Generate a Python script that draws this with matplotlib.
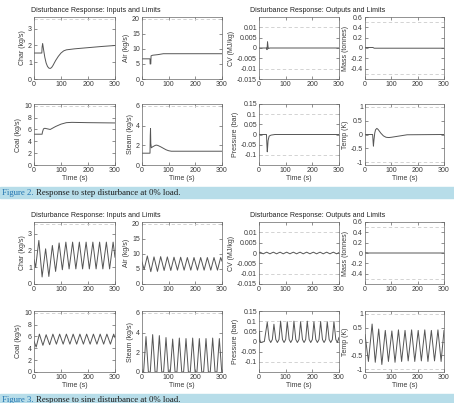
import numpy as np
import matplotlib
matplotlib.use("Agg")
import matplotlib.pyplot as plt
from matplotlib.patches import Rectangle

plt.rcParams['font.family'] = ['Liberation Sans', 'DejaVu Sans']
plt.rcParams['font.size'] = 5

# ---- Figure 2: step disturbance ----
char_step_t = [0, 29, 30, 32, 35, 40, 45, 50, 55, 60, 65, 70, 80, 90, 100, 110, 120, 150, 200, 250, 300]
char_step = [1.55, 1.55, 1.9, 2.12, 1.8, 1.3, 0.95, 0.75, 0.65, 0.63, 0.68, 0.8, 1.1, 1.35, 1.55, 1.68, 1.74, 1.8, 1.87, 1.94, 2.0]

air_step_t = [0, 30, 30.5, 33, 34, 40, 60, 80, 300]
air_step = [6.7, 6.7, 5.0, 5.0, 7.7, 7.9, 8.1, 8.4, 8.4]

coal_step_t = [0, 30, 31, 35, 40, 50, 60, 80, 100, 120, 140, 200, 300]
coal_step = [5.2, 5.2, 5.5, 6.1, 6.2, 6.1, 6.0, 6.5, 6.9, 7.15, 7.2, 7.15, 7.1]

steam_step_t = [0, 30, 31, 32, 33, 35, 40, 50, 55, 60, 70, 80, 90, 100, 110, 300]
steam_step = [1.2, 1.2, 3.0, 3.7, 2.2, 1.75, 1.85, 2.0, 2.02, 1.98, 1.85, 1.7, 1.55, 1.45, 1.4, 1.4]

cv_step_t = [0, 29, 30, 31, 32, 34, 36, 40, 300]
cv_step = [0, 0, -0.0008, 0.001, 0.003, 0.0005, -0.0003, 0, 0]

mass_step_t = [0, 30, 35, 300]
mass_step = [0.01, 0.01, -0.004, -0.004]

pres_step_t = [0, 28, 30, 31, 32, 34, 38, 45, 60, 300]
pres_step = [0, 0, -0.06, -0.085, -0.07, -0.03, -0.008, -0.003, 0, 0]

temp_step_t = [0, 29, 31, 32, 34, 37, 40, 45, 50, 60, 70, 80, 90, 100, 120, 140, 160, 300]
temp_step = [0, 0, -0.3, -0.42, -0.2, 0.05, 0.17, 0.22, 0.18, 0.05, -0.05, -0.1, -0.11, -0.1, -0.07, -0.04, -0.01, 0]

# ---- Figure 3: sine disturbance ----
char_sine_t = [0, 6, 18, 30, 43, 55, 68, 80, 93, 105, 118, 130, 143, 155, 168, 180, 193, 205, 218, 230, 243, 255, 268, 280, 293, 300]
char_sine = [1.45, 1.0, 2.6, 0.42, 2.1, 0.45, 2.3, 0.75, 2.45, 0.85, 2.5, 0.9, 2.5, 0.9, 2.5, 0.9, 2.5, 0.9, 2.5, 0.9, 2.5, 0.9, 2.5, 0.9, 2.5, 1.6]

air_sine_t = [0, 8, 20, 33, 45, 58, 70, 83, 95, 108, 120, 133, 145, 158, 170, 183, 195, 208, 220, 233, 245, 258, 270, 283, 295, 300]
air_sine = [7.3, 4.8, 9.3, 4.1, 9.0, 4.2, 9.1, 4.5, 9.0, 4.5, 8.9, 4.6, 8.9, 4.6, 8.8, 4.6, 8.8, 4.6, 8.8, 4.6, 8.8, 4.6, 8.8, 4.6, 8.8, 7.6]

coal_sine_t = [0, 8, 20, 33, 45, 58, 70, 83, 95, 108, 120, 133, 145, 158, 170, 183, 195, 208, 220, 233, 245, 258, 270, 283, 295, 300]
coal_sine = [5.2, 4.2, 6.4, 4.5, 6.3, 4.6, 6.4, 4.7, 6.4, 4.7, 6.4, 4.7, 6.4, 4.7, 6.4, 4.7, 6.4, 4.7, 6.4, 4.7, 6.4, 4.7, 6.4, 4.7, 6.4, 5.8]

steam_sine_t = [0, 6, 15, 24, 31, 40, 49, 56, 65, 74, 81, 90, 99, 106, 115, 124, 131, 140, 149, 156, 165, 174, 181, 190, 199, 206, 215, 224, 231, 240, 249, 256, 265, 274, 281, 290, 299, 300]
steam_sine = [0, 0, 3.6, 0, 0, 3.8, 0, 0, 3.7, 0, 0, 3.5, 0, 0, 3.35, 0, 0, 3.45, 0, 0, 3.4, 0, 0, 3.45, 0, 0, 3.4, 0, 0, 3.4, 0, 0, 3.45, 0, 0, 3.4, 0, 0]

cv_sine_t = [0, 4, 10, 16, 22, 29, 35, 41, 47, 54, 60, 66, 72, 79, 85, 91, 97, 104, 110, 116, 122, 129, 135, 141, 147, 154, 160, 166, 172, 179, 185, 191, 197, 204, 210, 216, 222, 229, 235, 241, 247, 254, 260, 266, 272, 279, 285, 291, 297, 300]
cv_sine = [0, 0.0004, 0, -0.0004, 0, 0.0004, 0, -0.0004, 0, 0.0004, 0, -0.0004, 0, 0.0004, 0, -0.0004, 0, 0.0004, 0, -0.0004, 0, 0.0004, 0, -0.0004, 0, 0.0004, 0, -0.0004, 0, 0.0004, 0, -0.0004, 0, 0.0004, 0, -0.0004, 0, 0.0004, 0, -0.0004, 0, 0.0004, 0, -0.0004, 0, 0.0004, 0, -0.0004, 0, 0.0002]

mass_sine_t = [0, 8, 12, 300]
mass_sine = [0.005, 0.005, 0.0, 0.0]

pres_sine_t = [0, 1, 2, 3, 6, 20, 31, 38, 44, 50, 56, 63, 69, 75, 81, 88, 94, 100, 106, 113, 119, 125, 131, 138, 144, 150, 156, 163, 169, 175, 181, 188, 194, 200, 206, 213, 219, 225, 231, 238, 244, 250, 256, 263, 269, 275, 281, 288, 294, 300]
pres_sine = [0.05, 0.0, 0.05, 0.01, -0.005, 0.0, 0.095, 0.01, -0.005, 0.01, 0.085, 0.01, -0.005, 0.01, 0.1, 0.01, -0.005, 0.01, 0.097, 0.01, -0.005, 0.01, 0.1, 0.01, -0.005, 0.01, 0.097, 0.01, -0.005, 0.01, 0.1, 0.01, -0.005, 0.01, 0.097, 0.01, -0.005, 0.01, 0.098, 0.01, -0.005, 0.01, 0.097, 0.01, -0.005, 0.01, 0.098, 0.01, -0.005, 0.02]

temp_sine_t = [0, 13, 27, 39, 52, 64, 77, 89, 102, 114, 127, 139, 152, 164, 177, 189, 202, 214, 227, 239, 252, 264, 277, 289, 300]
temp_sine = [0.25, -0.72, 0.63, -0.75, 0.45, -0.83, 0.4, -0.72, 0.38, -0.75, 0.42, -0.72, 0.4, -0.7, 0.42, -0.72, 0.4, -0.7, 0.42, -0.72, 0.4, -0.7, 0.42, -0.72, 0.4]

x_ticks = [0, 100, 200, 300]

# panel settings: label, ylim, yticks, limit lines
panels = {
    'char': ('Char (kg/s)', (0, 3.7), [0, 1, 2, 3], [3.6]),
    'air': ('Air (kg/s)', (0, 20.6), [0, 5, 10, 15, 20], [20]),
    'coal': ('Coal (kg/s)', (0, 10.3), [0, 2, 4, 6, 8, 10], [10]),
    'steam': ('Steam (kg/s)', (0, 6.2), [0, 2, 4, 6], [6]),
    'cv': ('CV (MJ/kg)', (-0.015, 0.015), [-0.015, -0.01, -0.005, 0, 0.005, 0.01], [-0.01, 0.01]),
    'mass': ('Mass (tonnes)', (-0.6, 0.6), [-0.4, -0.2, 0, 0.2, 0.4, 0.6], [-0.5, 0.5]),
    'pres': ('Pressure (bar)', (-0.15, 0.15), [-0.1, -0.05, 0, 0.05, 0.1, 0.15], [-0.1, 0.1]),
    'temp': ('Temp (K)', (-1.1, 1.1), [-1, -0.5, 0, 0.5, 1], [-1, 1]),
}

W, H = 454, 403
fig = plt.figure(figsize=(W / 100, H / 100), dpi=100)

def px_axes(l, r, t, b):
    return fig.add_axes([l / W, 1 - b / H, (r - l) / W, (b - t) / H])

def draw(ax, key, t, y, bottom_row):
    label, ylim, yt, lims = panels[key]
    for v in lims:
        ax.axhline(v, color='#cccccc', lw=0.6, dashes=(4, 3))
    ax.plot(t, y, color='#555555', lw=0.7)
    ax.set_xlim(0, 300)
    ax.set_ylim(*ylim)
    ax.set_xticks(x_ticks)
    ax.set_yticks(yt)
    ax.set_yticklabels([('%g' % v) for v in yt])
    ax.set_ylabel(label, labelpad=1.5, color='#3a3a3a')
    if bottom_row:
        ax.set_xlabel('Time (s)', labelpad=1, color='#3a3a3a')
    ax.tick_params(direction='in', length=2, width=0.4, top=True, right=True,
                   pad=1.5, colors='#3a3a3a', labelsize=5)
    for s in ax.spines.values():
        s.set_linewidth(0.5)
        s.set_color('#666666')

def block(dy1, dy2, data):
    cols_l = [(34, 115), (142, 222), (259, 339), (365, 444)]
    rows = [(17 + dy1, 79 + dy1), (104 + dy2, 165 + dy2)]
    layout = [('char', 0, 0), ('air', 0, 1), ('coal', 1, 0), ('steam', 1, 1),
              ('cv', 0, 2), ('mass', 0, 3), ('pres', 1, 2), ('temp', 1, 3)]
    for key, r, c in layout:
        ax = px_axes(cols_l[c][0], cols_l[c][1], rows[r][0], rows[r][1])
        t, y = data[key]
        draw(ax, key, t, y, r == 1)
    fig.text(96 / W, 1 - (10 + dy1) / H, 'Disturbance Response: Inputs and Limits',
             ha='center', va='center', fontsize=5, color='#222222')
    fig.text(318 / W, 1 - (11 + dy1) / H, 'Disturbance Response: Outputs and Limits',
             ha='center', va='center', fontsize=5, color='#222222')

step_data = {
    'char': (char_step_t, char_step), 'air': (air_step_t, air_step),
    'coal': (coal_step_t, coal_step), 'steam': (steam_step_t, steam_step),
    'cv': (cv_step_t, cv_step), 'mass': (mass_step_t, mass_step),
    'pres': (pres_step_t, pres_step), 'temp': (temp_step_t, temp_step),
}
sine_data = {
    'char': (char_sine_t, char_sine), 'air': (air_sine_t, air_sine),
    'coal': (coal_sine_t, coal_sine), 'steam': (steam_sine_t, steam_sine),
    'cv': (cv_sine_t, cv_sine), 'mass': (mass_sine_t, mass_sine),
    'pres': (pres_sine_t, pres_sine), 'temp': (temp_sine_t, temp_sine),
}

block(0, 0, step_data)
block(205, 207, sine_data)

# caption bars
def caption(top, bottom, num, text):
    fig.patches.append(Rectangle((0, 1 - bottom / H), 1, (bottom - top) / H,
                                 transform=fig.transFigure, color='#b7dde9', zorder=0))
    yc = 1 - ((top + bottom) / 2 + 0.5) / H
    t1 = fig.text(2 / W, yc, 'Figure %d.' % num, ha='left', va='center',
                  fontsize=6.3, color='#1f73b0', family='Liberation Serif')
    fig.canvas.draw()
    bb = t1.get_window_extent()
    fig.text((bb.x1 + 2) / W, yc, text, ha='left', va='center',
             fontsize=6.3, color='#1a1a1a', family='Liberation Serif')

caption(187, 198, 2, 'Response to step disturbance at 0% load.')
caption(394, 406, 3, 'Response to sine disturbance at 0% load.')

fig.savefig('out.png', dpi=100)
